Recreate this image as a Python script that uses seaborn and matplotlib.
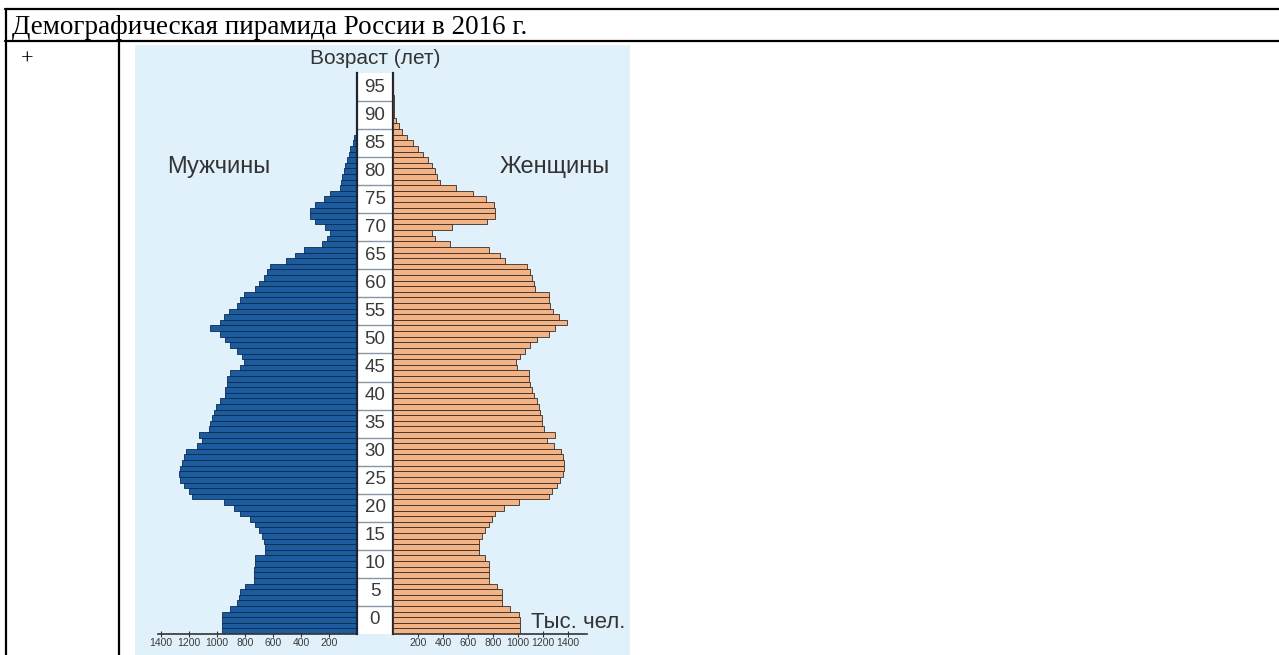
import matplotlib
matplotlib.use("Agg")
import matplotlib.pyplot as plt
import seaborn as sns
import pandas as pd
from matplotlib.patches import Rectangle
from matplotlib.lines import Line2D

# ages 0..99, thousands of people
ages = list(range(100))
men = [964, 964, 964, 964, 905, 857, 845, 833, 798, 738,
       738, 738, 726, 726, 655, 660, 667, 679, 702, 726,
       762, 833, 881, 950, 1179, 1202, 1238, 1262, 1274, 1262,
       1250, 1238, 1220, 1143, 1107, 1131, 1060, 1048, 1036, 1024,
       1006, 976, 940, 940, 929, 929, 905, 833, 805, 821,
       857, 905, 940, 976, 1048, 976, 952, 917, 857, 833,
       810, 726, 702, 667, 643, 619, 510, 440, 381, 250,
       214, 190, 226, 300, 333, 333, 300, 238, 190, 125,
       114, 107, 95, 83, 71, 60, 48, 29, 20, 10,
       6, 4, 3, 2, 1, 1, 0, 0, 0, 0]
women = [1018, 1018, 1018, 1005, 938, 872, 872, 872, 832, 765,
         765, 765, 765, 738, 685, 685, 685, 712, 738, 765,
         792, 818, 885, 1011, 1245, 1271, 1312, 1338, 1357, 1365,
         1365, 1361, 1346, 1285, 1232, 1298, 1206, 1192, 1192, 1179,
         1170, 1152, 1126, 1112, 1098, 1085, 1091, 992, 985, 1018,
         1059, 1098, 1152, 1245, 1298, 1392, 1326, 1282, 1253, 1245,
         1245, 1138, 1126, 1112, 1098, 1073, 894, 859, 765, 459,
         338, 312, 472, 751, 816, 816, 805, 745, 638, 500,
         372, 351, 335, 309, 277, 239, 202, 160, 112, 72,
         46, 21, 11, 9, 6, 4, 3, 2, 1, 1]
age_labels = list(range(0, 100, 5))
left_ticks = [1400, 1200, 1000, 800, 600, 400, 200]
right_ticks = [200, 400, 600, 800, 1000, 1200, 1400]

title = "Демографическая пирамида России в 2016 г."

df = pd.DataFrame({"age": ages, "men": men, "women": women})

sns.set_theme(style="white")
plt.rcParams["font.family"] = ["Liberation Sans", "DejaVu Sans"]

W, H = 1279, 655
fig = plt.figure(figsize=(W / 100, H / 100), dpi=100)
fig.patch.set_facecolor("white")


def fx(px):
    return px / W


def fy(py):
    return 1 - py / H


# light blue panel of the picture (behind the axes)
fig.patches.append(Rectangle((fx(135), 0), fx(630) - fx(135), fy(45),
                             transform=fig.transFigure, facecolor="#e1f1fb",
                             edgecolor="none", zorder=-5))

# table borders
for x0, y0, x1, y1 in [(5, 9, W, 9), (5, 41, W, 41), (6, 9, 6, H), (119, 41, 119, H)]:
    fig.add_artist(Line2D([fx(x0), fx(x1)], [fy(y0), fy(y1)], color="black",
                          lw=1.6, transform=fig.transFigure))

fig.text(fx(12), fy(34), title, family="Liberation Serif", fontsize=19.5,
         ha="left", va="baseline", color="black")
fig.text(fx(27), fy(60), "+", family="Liberation Serif", fontsize=16,
         ha="center", va="center", color="black")

bot, top = fy(634), fy(73)
axm = fig.add_axes([fx(158), bot, fx(357) - fx(158), top - bot])
axc = fig.add_axes([fx(357), bot, fx(393) - fx(357), top - bot])
axw = fig.add_axes([fx(393), bot, fx(587) - fx(393), top - bot])

sns.barplot(data=df, x="men", y="age", orient="y", native_scale=True,
            color="#1c5c9e", saturation=1, edgecolor="#0b2b4f", linewidth=0.6,
            width=1, errorbar=None, ax=axm)
sns.barplot(data=df, x="women", y="age", orient="y", native_scale=True,
            color="#f2b486", saturation=1, edgecolor="#3b2b22", linewidth=0.6,
            width=1, errorbar=None, ax=axw)

axm.set_xlim((357 - 158) / 0.14, 0)
axw.set_xlim(0, (587 - 393) / 0.125)

for ax, ticks in [(axm, left_ticks), (axw, right_ticks)]:
    ax.set_ylim(-0.5, 99.5)
    ax.set_facecolor("none")
    ax.set_xlabel("")
    ax.set_ylabel("")
    ax.set_yticks([])
    ax.set_xticks(ticks)
    ax.set_xticklabels([str(t) for t in ticks])
    for s in ["top", "left", "right"]:
        ax.spines[s].set_visible(False)
    ax.spines["bottom"].set_color("#333333")
    ax.spines["bottom"].set_linewidth(1.2)
    ax.tick_params(axis="x", bottom=True, direction="inout", length=4, width=0.8,
                   color="#333333", labelsize=7.5, labelcolor="#3a3a3a", pad=1)

# centre column with age labels
axc.set_xlim(0, 1)
axc.set_ylim(-0.5, 99.5)
axc.set_facecolor("white")
axc.set_xticks([])
axc.set_yticks([])
for s in ["top", "bottom"]:
    axc.spines[s].set_visible(False)
for s in ["left", "right"]:
    axc.spines[s].set_color("#1b2633")
    axc.spines[s].set_linewidth(1.6)
for a in age_labels:
    axc.text(0.5, a + 2, str(a), ha="center", va="center", fontsize=13.5,
             color="#3a3a3a")
    if a > 0:
        axc.axhline(a - 0.5, color="#8797a6", lw=1)

fig.text(fx(375), fy(58), "Возраст (лет)", ha="center", va="center",
         fontsize=15, color="#333333")
fig.text(fx(219), fy(167), "Мужчины", ha="center", va="center",
         fontsize=17, color="#333333")
fig.text(fx(555), fy(167), "Женщины", ha="center", va="center",
         fontsize=17, color="#333333")
fig.text(fx(578), fy(622), "Тыс. чел.", ha="center", va="center",
         fontsize=16, color="#333333")

fig.savefig("out.png", dpi=100)
